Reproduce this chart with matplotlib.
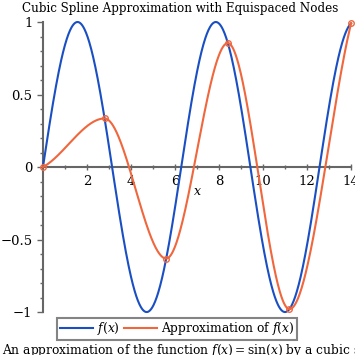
import numpy as np
import matplotlib

matplotlib.use("Agg")
import matplotlib.pyplot as plt

# equispaced interpolation nodes on [0, 14], the values there and the
# slopes of the approximating curve at each node
node_x = [0.0, 2.8, 5.6, 8.4, 11.2, 14.0]
node_y = [0.0, 0.335, -0.631, 0.855, -0.980, 0.991]
node_slope = [0.08, 0.0, 0.0, 0.0, 0.0, 0.62]

x_ticks = [2, 4, 6, 8, 10, 12, 14]
y_ticks = [-1, -0.5, 0, 0.5, 1]
y_tick_labels = ["\u22121", "\u22120.5", "0", "0.5", "1"]

BLUE = "#1a4fc4"
ORANGE = "#f0673d"
GREY = "#666666"


def hermite(xn, yn, mn, xs):
    xn, yn, mn = np.asarray(xn), np.asarray(yn), np.asarray(mn)
    k = np.clip(np.searchsorted(xn, xs) - 1, 0, len(xn) - 2)
    hh = xn[k + 1] - xn[k]
    t = (xs - xn[k]) / hh
    h00 = 2 * t**3 - 3 * t**2 + 1
    h10 = t**3 - 2 * t**2 + t
    h01 = -2 * t**3 + 3 * t**2
    h11 = t**3 - t**2
    return h00 * yn[k] + h10 * hh * mn[k] + h01 * yn[k + 1] + h11 * hh * mn[k + 1]


plt.rcParams["font.family"] = "DejaVu Serif"
plt.rcParams["mathtext.fontset"] = "dejavuserif"

fig = plt.figure(figsize=(3.55, 3.55), dpi=100)
ax = fig.add_axes([0.121, 0.121, 0.868, 0.817])

xs = np.linspace(0, 14, 800)
ax.plot(xs, np.sin(xs), color=BLUE, lw=1.5, clip_on=False, label=r"$f(x)$", zorder=3)
ax.plot(xs, hermite(node_x, node_y, node_slope, xs), color=ORANGE, lw=1.5, clip_on=False,
        label=r"Approximation of $f(x)$", zorder=4)
ax.plot(node_x, node_y, "o", ms=4, mfc="none", mec=ORANGE, mew=1, clip_on=False, zorder=5)

ax.set_xlim(0, 14)
ax.set_ylim(-1, 1)
for s in ("top", "right"):
    ax.spines[s].set_visible(False)
ax.spines["left"].set_position(("data", 0))
ax.spines["bottom"].set_position(("data", 0))
for s in ("left", "bottom"):
    ax.spines[s].set_color(GREY)
    ax.spines[s].set_linewidth(1.5)

ax.set_xticks(x_ticks)
ax.set_xticks(np.arange(1, 14, 2), minor=True)
ax.set_yticks(y_ticks)
ax.set_yticklabels(y_tick_labels)
ax.set_yticks(np.arange(-0.9, 1.0, 0.1), minor=True)
ax.tick_params(colors=GREY, labelcolor="black", labelsize=9.5, width=1, length=4)
ax.tick_params(which="minor", colors=GREY, width=1, length=2.5)
ax.tick_params(axis="x", which="both", direction="inout")
ax.text(7.0, -0.17, r"$x$", fontsize=9, ha="center", va="center")

fig.suptitle("Cubic Spline Approximation with Equispaced Nodes", fontsize=8.6,
             x=0.507, y=0.995, va="top")

leg = fig.legend(loc="center", bbox_to_anchor=(0.499, 0.074), ncol=2, fontsize=8.8,
                 frameon=True, fancybox=False, edgecolor=GREY, handlelength=2.7,
                 handletextpad=0.3, columnspacing=0.4, borderpad=0.2, borderaxespad=0)
leg.get_frame().set_linewidth(1.5)

fig.text(0.005, 0.004, r"An approximation of the function $f(x) = \sin(x)$ by a cubic spline with equispaced nodes.",
         fontsize=8.8, ha="left", va="baseline")

fig.savefig("out.png", dpi=100)
